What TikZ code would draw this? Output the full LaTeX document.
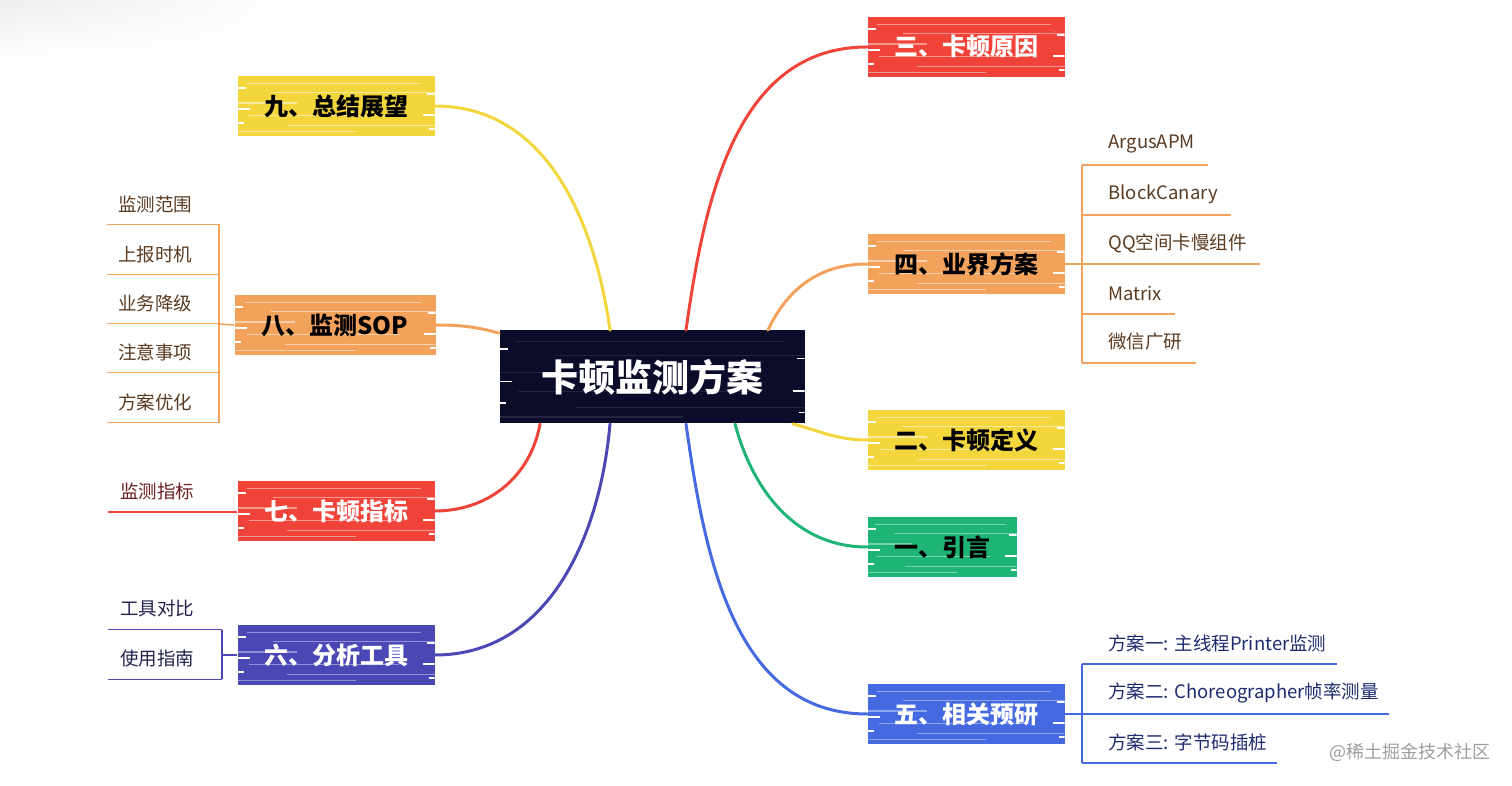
\documentclass[tikz,border=0pt]{standalone}
\usepackage{fontspec}
\setmainfont{Noto Sans CJK SC}
\usetikzlibrary{calc,fadings}
\definecolor{cRed}{HTML}{F0443A}
\definecolor{cOrg}{HTML}{F3A25C}
\definecolor{cYel}{HTML}{F3D53C}
\definecolor{cGrn}{HTML}{1DB476}
\definecolor{cBlu}{HTML}{4569E1}
\definecolor{cInd}{HTML}{4B48B6}
\definecolor{cCtr}{HTML}{0B0C2A}
\definecolor{tBrn}{HTML}{5A3A20}
\definecolor{tRed}{HTML}{6B1F1F}
\definecolor{tInd}{HTML}{22214E}
\definecolor{tBlu}{HTML}{1E2A6E}
\tikzset{
  streaks/.style={path picture={
    \foreach \yy/\aa/\bb in {0.12/0.05/0.93,0.27/0.18/1,0.45/0.0/0.3,0.66/0.06/0.82,0.83/0.25/1,0.93/0.0/0.6}{
      \draw[#1, line width=.6pt]
        let \p1=(path picture bounding box.south west), \p2=(path picture bounding box.north east) in
        ({\x1+\aa*(\x2-\x1)},{\y2-\yy*(\y2-\y1)}) -- ({\x1+\bb*(\x2-\x1)},{\y2-\yy*(\y2-\y1)});
    }
    \foreach \yy/\ll in {0.2/4,0.55/6,0.78/3}{
      \draw[white, line width=.8pt]
        let \p1=(path picture bounding box.south west), \p2=(path picture bounding box.north east) in
        (\x1,{\y2-\yy*(\y2-\y1)}) -- ++(\ll pt,0)
        (\x2,{\y2-(\yy+0.1)*(\y2-\y1)}) -- ++(-\ll pt,0);
    }}},
  box/.style={minimum width=98.5pt, minimum height=30pt, inner sep=0pt,
    font=\bfseries\fontsize{12}{14}\selectfont},
  ctrbox/.style={minimum width=152.5pt, minimum height=46.5pt, inner sep=0pt,
    fill=cCtr, text=white, font=\bfseries\fontsize{18.5}{22}\selectfont, streaks={white,opacity=.1}},
  leaf/.style={inner sep=0pt, anchor=west, font=\fontsize{9.25}{11}\selectfont},
  branch/.style={line width=1.5pt, line cap=round},
  twig/.style={line width=.8pt},
}
\begin{document}
\begin{tikzpicture}[x=0.5pt,y=-0.5pt]
\useasboundingbox (0,0) rectangle (1512,786);
\shade[top color=black!7, bottom color=white, path fading=east] (0,0) rectangle (300,60);

% center
\node[ctrbox] (ctr) at (652,377) {卡顿监测方案};

% branch boxes
\node[box, fill=cRed, text=white, streaks={white,opacity=.45}] (b3) at (966,47) {三、卡顿原因};
\node[box, fill=cOrg, text=black, streaks={white,opacity=.5}] (b4) at (966,264) {四、业界方案};
\node[box, fill=cYel, text=black, streaks={white,opacity=.5}] (b2) at (966,440) {二、卡顿定义};
\node[box, fill=cGrn, text=black, minimum width=74.5pt, streaks={white,opacity=.4}] (b1) at (942,547) {一、引言};
\node[box, fill=cBlu, text=white, streaks={white,opacity=.4}] (b5) at (966,714) {五、相关预研};
\node[box, fill=cYel, text=black, streaks={white,opacity=.5}] (b9) at (336,106) {九、总结展望};
\node[box, fill=cOrg, text=black, minimum width=100.5pt, streaks={white,opacity=.5}] (b8) at (335,325) {八、监测SOP};
\node[box, fill=cRed, text=white, streaks={white,opacity=.45}] (b7) at (336,511) {七、卡顿指标};
\node[box, fill=cInd, text=white, streaks={white,opacity=.4}] (b6) at (336,655) {六、分析工具};

% branches
\draw[branch, cRed] ([xshift=17pt]ctr.north) to[out=82,in=180] (b3.west);
\draw[branch, cOrg] ([xshift=58pt]ctr.north) to[out=65,in=180] (b4.west);
\draw[branch, cYel] ([xshift=70.5pt]ctr.south) to[out=-15,in=180] (b2.west);
\draw[branch, cGrn] ([xshift=41.5pt]ctr.south) to[out=-75,in=180] (b1.west);
\draw[branch, cBlu] ([xshift=17pt]ctr.south) to[out=-82,in=180] (b5.west);
\draw[branch, cYel] ([xshift=-21pt]ctr.north) to[out=98,in=0] (b9.east);
\draw[branch, cOrg] ([yshift=-1.5pt]ctr.north west) to[out=165,in=0] (b8.east);
\draw[branch, cRed] ([xshift=-56pt]ctr.south) to[out=-100,in=0] (b7.east);
\draw[branch, cInd] ([xshift=-21pt]ctr.south) to[out=-95,in=0] (b6.east);

% group 四
\coordinate (k4) at (1082,264);
\node[leaf, text=tBrn] (a1) at (1108,144) {ArgusAPM};
\node[leaf, text=tBrn] (a2) at (1108,194) {BlockCanary};
\node[leaf, text=tBrn] (a3) at (1108,243) {QQ空间卡慢组件};
\node[leaf, text=tBrn] (a4) at (1108,293) {Matrix};
\node[leaf, text=tBrn] (a5) at (1108,342) {微信广研};
\draw[twig, cOrg] (b4.east) -- (k4);
\draw[twig, cOrg] ([yshift=-10.5pt]a1.west -| k4) -- ([yshift=-10.5pt]a5.west -| k4);
\foreach \n in {a1,a2,a3,a4,a5}{
  \draw[twig, cOrg] ([yshift=-10.5pt]\n.west -| k4) -- ([xshift=6.5pt,yshift=-10.5pt]\n.east);
}

% group 五
\coordinate (k5) at (1082,714);
\node[leaf, text=tBlu] (p1) at (1108,643) {方案一: 主线程Printer监测};
\node[leaf, text=tBlu] (p2) at (1108,693) {方案二: Choreographer帧率测量};
\node[leaf, text=tBlu] (p3) at (1108,742) {方案三: 字节码插桩};
\draw[twig, cBlu] (b5.east) -- (k5);
\draw[twig, cBlu] ([yshift=-10.5pt]p1.west -| k5) -- ([yshift=-10.5pt]p3.west -| k5);
\foreach \n in {p1,p2,p3}{
  \draw[twig, cBlu] ([yshift=-10.5pt]\n.west -| k5) -- ([xshift=5pt,yshift=-10.5pt]\n.east);
}

% group 八
\coordinate (k8) at (219,324);
\node[leaf, text=tBrn] (s1) at (118,204) {监测范围};
\node[leaf, text=tBrn] (s2) at (118,254) {上报时机};
\node[leaf, text=tBrn] (s3) at (118,303) {业务降级};
\node[leaf, text=tBrn] (s4) at (118,352) {注意事项};
\node[leaf, text=tBrn] (s5) at (118,402) {方案优化};
\draw[twig, cOrg] (k8) -- (b8.west);
\draw[twig, cOrg] ([yshift=-10pt]s1.west -| k8) -- ([yshift=-10.5pt]s5.west -| k8);
\foreach \n in {s1,s2,s3,s4,s5}{
  \draw[twig, cOrg] ([xshift=-5.5pt,yshift=-10.2pt]\n.west) -- ([yshift=-10.2pt]\n.west -| k8);
}

% group 七
\node[leaf, text=tRed] (m1) at (120,491) {监测指标};
\draw[twig, cRed] ([xshift=-6pt,yshift=-10.5pt]m1.west) -- ([yshift=-10.5pt]m1.west -| b7.west);

% group 六
\coordinate (k6) at (222,655);
\node[leaf, text=tInd] (t1) at (120,608) {工具对比};
\node[leaf, text=tInd] (t2) at (120,658) {使用指南};
\draw[twig, cInd] (k6) -- (b6.west);
\draw[twig, cInd] ([yshift=-11pt]t1.west -| k6) -- ([yshift=-10.5pt]t2.west -| k6);
\foreach \n in {t1,t2}{
  \draw[twig, cInd] ([xshift=-6pt,yshift=-10.7pt]\n.west) -- ([yshift=-10.7pt]\n.west -| k6);
}

% watermark
\node[inner sep=0pt, text=black!38, font=\fontsize{9}{11}\selectfont] (wm) at (1410,752) {@稀土掘金技术社区};
\end{tikzpicture}
\end{document}
